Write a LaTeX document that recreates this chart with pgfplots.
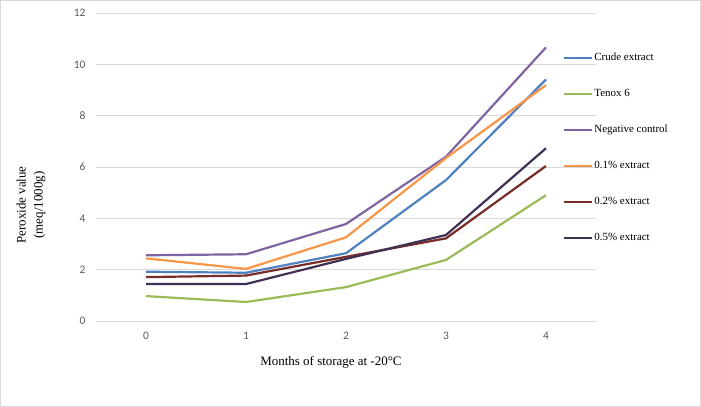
\documentclass[border=0pt]{standalone}
\usepackage{fontspec}
\setmainfont{Liberation Serif}
\newfontfamily\tickfont{Carlito}
\usepackage{pgfplots}
\pgfplotsset{compat=1.18}
\definecolor{cBlue}{HTML}{4F81BD}
\definecolor{cGreen}{HTML}{9BBB59}
\definecolor{cPurple}{HTML}{8064A2}
\definecolor{cOrange}{HTML}{F79646}
\definecolor{cDRed}{HTML}{772C2A}
\definecolor{cDPurple}{HTML}{403152}
\definecolor{cGrid}{HTML}{D9D9D9}
\definecolor{cTick}{HTML}{595959}
\begin{document}
\begin{tikzpicture}
\useasboundingbox (-96bp,-86bp) rectangle (605bp,321bp);
\draw[cGrid] (-95.5bp,-85.5bp) rectangle (604.5bp,320.5bp);
\begin{axis}[
  at={(0,0)}, anchor=south west,
  scale only axis, width=500bp, height=308bp,
  xmin=-0.5, xmax=4.5, ymin=0, ymax=12,
  xtick={0,1,2,3,4}, ytick={0,2,4,6,8,10,12},
  ymajorgrids, major grid style={cGrid, line width=0.75bp},
  axis line style={draw=none}, tick style={draw=none},
  xticklabel={\pgfmathprintnumber{\tick}},
  yticklabel={\pgfmathprintnumber{\tick}},
  ticklabel style={font=\tickfont\fontsize{11.5}{12.5}\selectfont, text=cTick},
  /pgf/number format/assume math mode=true,
  yticklabel style={xshift=-7bp},
  xticklabel style={yshift=-8bp},
  legend cell align=left,
  legend style={draw=none, fill=none, at={(rel axis cs:0.934,0.875)}, anchor=north west,
    font=\fontsize{11}{12}\selectfont, row sep=24bp, inner xsep=0pt, inner ysep=0pt,
    nodes={inner sep=1bp, text height=8bp, text depth=2bp}},
  legend image code/.code={\draw[#1, line width=2.2bp] (0bp,0bp) -- (28bp,0bp);},
  every axis plot/.append style={line width=2.2bp, line join=round, mark=none},
  clip=false,
]
\addplot[cBlue] coordinates {(0,1.92) (1,1.88) (2,2.64) (3,5.49) (4,9.41)};
\addlegendentry{Crude extract}
\addplot[cGreen] coordinates {(0,0.97) (1,0.74) (2,1.32) (3,2.38) (4,4.9)};
\addlegendentry{Tenox 6}
\addplot[cPurple] coordinates {(0,2.56) (1,2.6) (2,3.78) (3,6.4) (4,10.66)};
\addlegendentry{Negative control}
\addplot[cOrange] coordinates {(0,2.44) (1,2.03) (2,3.26) (3,6.35) (4,9.19)};
\addlegendentry{0.1\% extract}
\addplot[cDRed] coordinates {(0,1.71) (1,1.77) (2,2.5) (3,3.22) (4,6.04)};
\addlegendentry{0.2\% extract}
\addplot[cDPurple] coordinates {(0,1.44) (1,1.44) (2,2.42) (3,3.35) (4,6.73)};
\addlegendentry{0.5\% extract}
\end{axis}
\node[rotate=90, align=center, font=\fontsize{13}{17}\selectfont] at (-65bp,116bp) {Peroxide value\\(meq/1000g)};
\node[font=\fontsize{13}{15}\selectfont] at (235bp,-41bp) {Months of storage at -20°C};
\end{tikzpicture}
\end{document}
